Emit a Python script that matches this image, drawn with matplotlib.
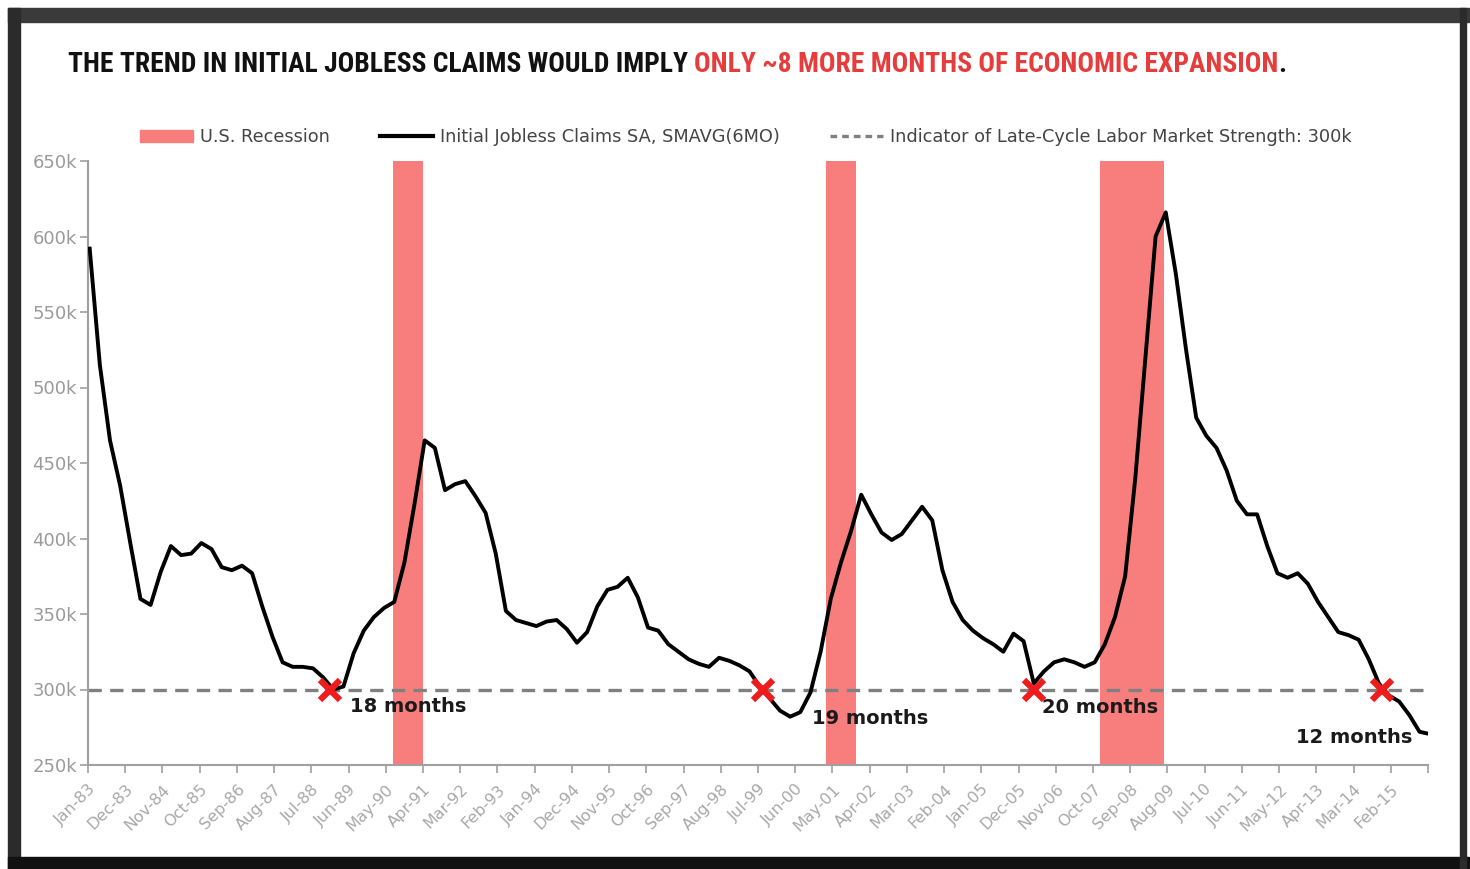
import numpy as np
import matplotlib.pyplot as plt
from matplotlib.patches import Patch, Rectangle
from matplotlib.lines import Line2D

# monthly index from Jan-83 (0), sampled quarterly + last month (Dec-15)
months = list(range(0, 396, 3)) + [395]
# initial jobless claims, 6mo moving average (thousands)
claims = [
    592, 515, 465, 435, 397, 360, 356, 378, 395, 389, 390, 397,
    393, 381, 379, 382, 377, 355, 335, 318, 315, 315, 314, 308,
    300, 302, 324, 339, 348, 354, 358, 384, 423, 465, 460, 432,
    436, 438, 428, 417, 390, 352, 346, 344, 342, 345, 346, 340,
    331, 338, 355, 366, 368, 374, 361, 341, 339, 330, 325, 320,
    317, 315, 321, 319, 316, 312, 302, 294, 286, 282, 285, 298,
    325, 360, 384, 405, 429, 416, 404, 399, 403, 412, 421, 412,
    379, 358, 346, 339, 334, 330, 325, 337, 332, 304, 312, 318,
    320, 318, 315, 318, 330, 348, 375, 440, 520, 600, 616, 575,
    525, 480, 468, 460, 445, 425, 416, 416, 395, 377, 374, 377,
    370, 358, 348, 338, 336, 333, 320, 304, 296, 292, 283, 272,
    271,
]
tick_labels = ['Jan-83', 'Dec-83', 'Nov-84', 'Oct-85', 'Sep-86', 'Aug-87',
               'Jul-88', 'Jun-89', 'May-90', 'Apr-91', 'Mar-92', 'Feb-93',
               'Jan-94', 'Dec-94', 'Nov-95', 'Oct-96', 'Sep-97', 'Aug-98',
               'Jul-99', 'Jun-00', 'May-01', 'Apr-02', 'Mar-03', 'Feb-04',
               'Jan-05', 'Dec-05', 'Nov-06', 'Oct-07', 'Sep-08', 'Aug-09',
               'Jul-10', 'Jun-11', 'May-12', 'Apr-13', 'Mar-14', 'Feb-15']
# recessions: (start month, end month exclusive)
rec_start = [90, 218, 299]
rec_end = [99, 227, 318]
threshold = 300
cross_months = [71, 199, 279, 382]
cross_labels = ['18 months', '19 months', '20 months', '12 months']

W, H = 1470, 869
fig = plt.figure(figsize=(W / 100, H / 100), dpi=100)
fig.patch.set_facecolor('white')

# photo frame
frame = '#2b2b2b'
fig.patches.append(Rectangle((8 / W, 1 - 22 / H), 1 - 8 / W, 14 / H, transform=fig.transFigure, color='#3a3a3a', zorder=0))
fig.patches.append(Rectangle((8 / W, 0), 12 / W, 1 - 8 / H, transform=fig.transFigure, color=frame, zorder=0))
fig.patches.append(Rectangle((8 / W, 0), 1 - 8 / W, 12 / H, transform=fig.transFigure, color='#111111', zorder=0))
fig.patches.append(Rectangle((1460 / W, 0), 6 / W, 1 - 8 / H, transform=fig.transFigure, color=frame, zorder=0))

ax = fig.add_axes([88 / W, 1 - 765 / H, (1428 - 88) / W, (765 - 161) / H])
ax.set_facecolor('white')

rec_color = '#f87e7e'
for s, e in zip(rec_start, rec_end):
    ax.axvspan(s, e, color=rec_color, lw=0, zorder=1)

ax.axhline(threshold, color='#808080', lw=2.4, dashes=(4, 2.5), zorder=2)
x = np.array(months) + 0.5
ax.plot(x, claims, color='black', lw=2.8, zorder=3, solid_joinstyle='round')

cx = np.array(cross_months) + 0.5
ax.plot(cx, [threshold] * len(cx), 'x', color='#ee1c1c', ms=15, mew=4.5, zorder=4)

lab_font = dict(fontsize=14, fontweight='bold', color='#1a1a1a', va='center')
ax.text(77.4, 289, cross_labels[0], ha='left', **lab_font)
ax.text(214, 281, cross_labels[1], ha='left', **lab_font)
ax.text(282, 288, cross_labels[2], ha='left', **lab_font)
ax.text(391.5, 268, cross_labels[3], ha='right', **lab_font)

ax.set_xlim(0, 396)
ax.set_ylim(250, 650)
ax.set_yticks(range(250, 651, 50))
ax.set_yticklabels([f'{v}k' for v in range(250, 651, 50)])
ax.set_xticks(range(0, 397, 11))
ax.set_xticklabels(tick_labels + [''], rotation=45, ha='right', va='top', rotation_mode='anchor')

for side in ['top', 'right']:
    ax.spines[side].set_visible(False)
for side in ['left', 'bottom']:
    ax.spines[side].set_color('#a0a0a0')
    ax.spines[side].set_linewidth(1.5)
ax.tick_params(axis='y', direction='out', length=6, width=1.2, color='#a0a0a0', labelcolor='#9a9a9a', labelsize=13, pad=2)
ax.tick_params(axis='x', direction='out', length=6, width=1.2, color='#a0a0a0', labelcolor='#a8a8a8', labelsize=11.5, pad=6)

# legend
handles = [Patch(color=rec_color),
           Line2D([], [], color='black', lw=3),
           Line2D([], [], color='#808080', lw=2.4, dashes=(2, 1.5))]
names = ['U.S. Recession', 'Initial Jobless Claims SA, SMAVG(6MO)',
         'Indicator of Late-Cycle Labor Market Strength: 300k']
leg = ax.legend(handles, names, ncol=3, frameon=False, loc='center',
                bbox_to_anchor=((746 - 88) / 1340, (765 - 137) / 604),
                fontsize=12.8, handlelength=3, columnspacing=2.8, handletextpad=0.4,
                labelcolor='#444444')

# title with red highlight
parts = [('THE TREND IN INITIAL JOBLESS CLAIMS WOULD IMPLY ', '#111111'),
         ('ONLY ~8 MORE MONTHS OF ECONOMIC EXPANSION', '#e63c3c'),
         ('.', '#111111')]
title_fam = ['Roboto Condensed', 'Liberation Sans Narrow', 'Liberation Sans']
r = fig.canvas.get_renderer()
probe = fig.text(0, 0, ''.join(p for p, _ in parts), fontsize=20, fontweight='bold', family=title_fam)
full_w = probe.get_window_extent(renderer=r).width
probe.remove()
fs = 20 * (1214 / full_w)
tx = 68 / W
for txt, col in parts:
    t = fig.text(tx, 1 - 64 / H, txt, color=col, fontsize=fs, fontweight='bold',
                 family=title_fam, va='center', ha='left')
    tx = t.get_window_extent(renderer=r).x1 / W

fig.savefig('out.png', dpi=100)
